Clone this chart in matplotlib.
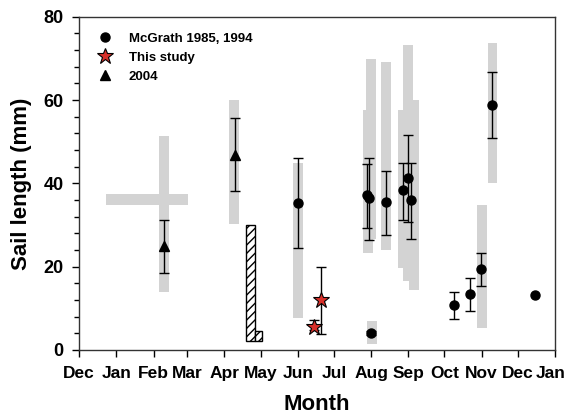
import matplotlib
matplotlib.use("Agg")
import matplotlib.pyplot as plt
import matplotlib.transforms as mtransforms
from matplotlib.lines import Line2D
import numpy as np

plt.rcParams['font.family'] = ['Liberation Sans', 'DejaVu Sans']
plt.rcParams['font.weight'] = 'bold'
plt.rcParams['hatch.linewidth'] = 1.0

# Time axis: days counted from 1 December
month_labels = ["Dec", "Jan", "Feb", "Mar", "Apr", "May", "Jun", "Jul",
                "Aug", "Sep", "Oct", "Nov", "Dec", "Jan"]
month_days = [0, 31, 62, 90, 121, 151, 182, 212, 243, 274, 304, 335, 365, 396]

# McGrath 1985, 1994: mean sail length with error bars
mcgrath_day = [182.0, 239.3, 241.4, 242.6, 255.3, 269.2, 273.3, 276.3,
               312.1, 325.4, 334.3, 343.2, 379.5]
mcgrath_mean = [35.4, 37.1, 36.6, 4.2, 35.5, 38.3, 41.4, 36.1,
                10.9, 13.4, 19.5, 58.9, 13.2]
mcgrath_low = [24.4, 29.3, 26.5, 3.7, 27.7, 31.3, 30.7, 26.6,
               7.4, 9.3, 15.3, 50.8, np.nan]
mcgrath_high = [46.1, 44.7, 46.2, 4.6, 43.0, 45.0, 51.7, 45.0,
                14.0, 17.2, 23.3, 66.7, np.nan]

# This study
study_day = [195.7, 201.0]
study_mean = [5.6, 12.0]
study_low = [4.9, 3.8]
study_high = [7.3, 20.0]

# 2004
y2004_day = [71.1, 129.7]
y2004_mean = [24.9, 46.9]
y2004_low = [18.4, 38.1]
y2004_high = [31.3, 55.6]

# Observed size ranges (grey bars)
range_day = [71.1, 129.3, 182.4, 240.1, 243.2, 243.6, 255.7,
             269.7, 273.8, 278.8, 335.0, 344.0]
range_min = [13.9, 30.3, 7.6, 23.4, 26.7, 1.4, 24.0,
             19.6, 16.6, 14.5, 5.4, 40.2]
range_max = [51.3, 59.9, 45.0, 57.7, 69.9, 7.0, 69.1,
             57.7, 73.1, 59.9, 34.7, 73.7]

# Horizontal range (collection period) for the February sample
feb_span_start = 22.5
feb_span_end = 90.6
feb_span_level = 36.05

# Hatched bars around May
hatch_start = [138.9, 146.6]
hatch_end = [146.6, 152.4]
hatch_min = [2.2, 2.2]
hatch_max = [29.9, 4.5]

grey = "#d3d3d3"
star_red = "#d8302a"

fig = plt.figure(figsize=(5.67, 4.16), dpi=100)
ax = fig.add_axes([79 / 567, 1 - 350 / 416, 476 / 567, 333.3 / 416])

# grey range bars
ax.bar(range_day, np.subtract(range_max, range_min), bottom=range_min,
       width=8.3, color=grey, edgecolor="none", zorder=1)
ax.barh(feb_span_level, feb_span_end - feb_span_start, left=feb_span_start,
        height=2.7, color=grey, edgecolor="none", zorder=1)

# hatched bars
ax.bar(hatch_start, np.subtract(hatch_max, hatch_min), bottom=hatch_min,
       width=np.subtract(hatch_end, hatch_start), align="edge",
       facecolor="white", edgecolor="black", hatch="////", linewidth=1.0,
       zorder=2)


def draw_series(day, mean, low, high, **kw):
    mean = np.asarray(mean, float)
    yerr = np.vstack([mean - np.asarray(low, float),
                      np.asarray(high, float) - mean])
    ax.errorbar(day, mean, yerr=yerr, fmt="none", ecolor="black",
                elinewidth=1.0, capsize=3.6, capthick=1.0, zorder=3)
    ax.plot(day, mean, linestyle="none", zorder=4, **kw)


draw_series(mcgrath_day, mcgrath_mean, mcgrath_low, mcgrath_high,
            marker="o", markersize=6.5, color="black")
draw_series(y2004_day, y2004_mean, y2004_low, y2004_high,
            marker="^", markersize=7, color="black")
draw_series(study_day, study_mean, study_low, study_high,
            marker="*", markersize=12, markerfacecolor=star_red,
            markeredgecolor="black", markeredgewidth=0.8)

ax.set_xlim(month_days[0], month_days[-1])
ax.set_ylim(0, 80)
ax.set_xticks(month_days)
ax.set_xticklabels(month_labels)
ax.set_yticks([0, 20, 40, 60, 80])
ax.set_yticks(np.arange(0, 81, 4), minor=True)

ax.tick_params(axis="both", which="major", direction="out", length=5,
               width=1.0, labelsize=12.5)
ax.tick_params(axis="x", pad=6.5)
ax.tick_params(axis="y", pad=6.0, labelsize=13)
ax.tick_params(axis="y", which="minor", direction="out", length=3.5, width=1.0)
ax.tick_params(axis="x", which="minor", bottom=False)
for lbl in ax.get_xticklabels() + ax.get_yticklabels():
    lbl.set_fontweight("bold")

# keep the final month label inside the figure edge
last = ax.get_xticklabels()[-1]
last.set_transform(last.get_transform() +
                   mtransforms.ScaledTranslation(-4.5 / 100, 0,
                                                 fig.dpi_scale_trans))

for sp in ax.spines.values():
    sp.set_linewidth(1.0)
    sp.set_color("#333333")

ax.set_xlabel("Month", fontsize=16, fontweight="bold")
ax.set_ylabel("Sail length (mm)", fontsize=16, fontweight="bold")
ax.xaxis.set_label_coords(0.5, -0.132)
ax.yaxis.set_label_coords(-0.098, 0.5)

handles = [
    Line2D([], [], linestyle="none", marker="o", markersize=6.5, color="black"),
    Line2D([], [], linestyle="none", marker="*", markersize=12,
           markerfacecolor=star_red, markeredgecolor="black",
           markeredgewidth=0.8),
    Line2D([], [], linestyle="none", marker="^", markersize=7, color="black"),
]
labels = ["McGrath 1985, 1994", "This study", "2004"]
ax.legend(handles, labels, loc="upper left",
          bbox_to_anchor=(13 / 476, 0.952), frameon=False,
          prop={"size": 9.5, "weight": "bold"}, borderpad=0,
          borderaxespad=0, handlelength=2.0, handletextpad=0.8,
          labelspacing=0.5)

fig.savefig("out.png", dpi=100)
